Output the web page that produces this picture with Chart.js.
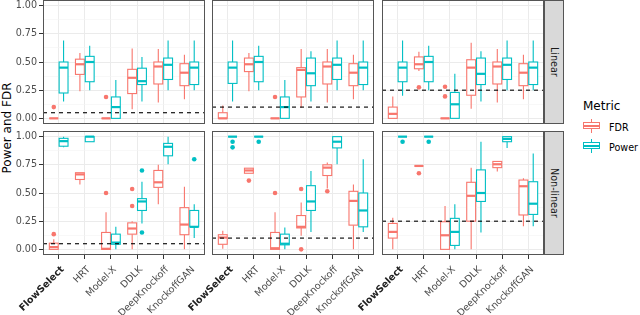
<!DOCTYPE html>
<html>
<head>
<meta charset="utf-8">
<script src="https://cdn.jsdelivr.net/npm/chart.js@4.4.1/dist/chart.umd.min.js"></script>
<style>
  body { margin: 0; background: #fff; }
  #wrap { position: relative; width: 640px; height: 315px; overflow: hidden; font-family: 'DejaVu Sans', sans-serif; }
  #wrap canvas { position: absolute; left: 0; top: 0; }
  .strip { position: absolute; left: 544px; width: 20px; height: 124px; background: #D9D9D9; border: 1px solid #555; box-sizing: border-box;
           display: flex; align-items: center; justify-content: center; }
  .strip span { writing-mode: vertical-rl; font-size: 9.6px; color: #1A1A1A; white-space: nowrap; }
  .ytitle { position: absolute; left: 6.9px; top: 127.5px; transform: translate(-50%, -50%) rotate(-90deg); font-size: 12px; line-height: 12px; white-space: nowrap; color: #000; }
  .legtxt { position: absolute; white-space: nowrap; color: #000; }
  .kpart { position: absolute; box-sizing: border-box; }
</style>
</head>
<body>
<div id="wrap">
  <div class="ytitle">Power and FDR</div>
  <div class="strip" style="top:0px"><span id="s0"></span></div>
  <div class="strip" style="top:131px"><span id="s1"></span></div>
  <div class="legtxt" style="left:583px;top:99px;font-size:12px">Metric</div>
  <div class="legtxt" style="left:609px;top:121.9px;font-size:9.6px">FDR</div>
  <div class="legtxt" style="left:609px;top:142.3px;font-size:9.6px">Power</div>
</div>
<script>
// Categories and facets
const methods = ['FlowSelect', 'HRT', 'Model-X', 'DDLK', 'DeepKnockoff', 'KnockoffGAN'];
const settings = ['Linear', 'Non-linear'];
const targets = [0.05, 0.1, 0.25];
const yBreaks = [0, 0.125, 0.25, 0.375, 0.5, 0.625, 0.75, 0.875, 1];

// Box summaries per method: [lower whisker, q1, median, q3, upper whisker]
const linFdr05 = [[0, 0, 0, 0, 0], [0.24, 0.39, 0.48, 0.525, 0.58], [0, 0, 0, 0, 0], [0.08, 0.22, 0.36, 0.435, 0.62], [0.14, 0.305, 0.46, 0.5, 0.615], [0.17, 0.29, 0.405, 0.485, 0.565]];
const linPow05 = [[0.15, 0.225, 0.45, 0.5, 0.69], [0.25, 0.325, 0.5, 0.55, 0.645], [0, 0, 0.1, 0.19, 0.34], [0.15, 0.3, 0.33, 0.445, 0.545], [0.25, 0.345, 0.475, 0.535, 0.69], [0.25, 0.3, 0.45, 0.5, 0.69]];
const linFdr10 = [[0, 0, 0, 0.05, 0.115], [0.24, 0.415, 0.48, 0.535, 0.58], [0, 0, 0, 0, 0], [0.095, 0.19, 0.43, 0.45, 0.615], [0.14, 0.305, 0.46, 0.5, 0.615], [0.17, 0.29, 0.405, 0.485, 0.565]];
const linPow10 = [[0.15, 0.31, 0.45, 0.5, 0.69], [0.25, 0.325, 0.5, 0.55, 0.645], [0, 0, 0.1, 0.19, 0.34], [0.15, 0.29, 0.4, 0.535, 0.595], [0.25, 0.345, 0.475, 0.535, 0.69], [0.25, 0.3, 0.45, 0.5, 0.69]];
const linFdr25 = [[0, 0, 0.04, 0.1, 0.195], [0.42, 0.44, 0.48, 0.545, 0.59], [0, 0, 0, 0, 0], [0.085, 0.205, 0.45, 0.52, 0.67], [0.14, 0.305, 0.46, 0.5, 0.615], [0.17, 0.29, 0.405, 0.485, 0.565]];
const linPow25 = [[0.2, 0.325, 0.45, 0.5, 0.69], [0.25, 0.325, 0.5, 0.55, 0.645], [0, 0, 0.125, 0.23, 0.395], [0.15, 0.3, 0.395, 0.535, 0.595], [0.25, 0.345, 0.475, 0.535, 0.69], [0.25, 0.3, 0.45, 0.5, 0.69]];
const nlFdr05 = [[0, 0, 0.02, 0.055, 0.09], [0.575, 0.62, 0.665, 0.68, 0.68], [0, 0, 0.005, 0.15, 0.33], [0, 0.135, 0.185, 0.235, 0.25], [0.4, 0.55, 0.595, 0.7, 0.75], [0, 0.13, 0.22, 0.37, 0.555]];
const nlPow05 = [[0.905, 0.915, 0.96, 0.985, 1], [0.955, 0.955, 1, 1, 1], [0, 0.045, 0.06, 0.135, 0.2], [0.23, 0.345, 0.425, 0.45, 0.6], [0.755, 0.83, 0.91, 0.94, 1], [0.1, 0.2, 0.2, 0.345, 0.4]];
const nlFdr10 = [[0.005, 0.045, 0.105, 0.13, 0.165], [0.675, 0.675, 0.7, 0.72, 0.72], [0, 0, 0.01, 0.15, 0.33], [0.12, 0.19, 0.2, 0.3, 0.415], [0.54, 0.655, 0.725, 0.75, 0.77], [0, 0.215, 0.43, 0.515, 0.575]];
const nlPow10 = [[1, 1, 1, 1, 1], [1, 1, 1, 1, 1], [0, 0.04, 0.05, 0.135, 0.195], [0.155, 0.345, 0.425, 0.565, 0.695], [0.755, 0.9, 0.955, 1, 1], [0.155, 0.2, 0.345, 0.5, 0.8]];
const nlFdr25 = [[0, 0.1, 0.155, 0.23, 0.28], [0.74, 0.74, 0.74, 0.74, 0.74], [0, 0, 0.125, 0.245, 0.385], [0, 0.25, 0.475, 0.595, 0.725], [0.69, 0.725, 0.755, 0.78, 0.78], [0.205, 0.305, 0.56, 0.615, 0.63]];
const nlPow25 = [[1, 1, 1, 1, 1], [1, 1, 1, 1, 1], [0, 0.035, 0.155, 0.275, 0.4], [0.15, 0.425, 0.5, 0.705, 0.955], [0.9, 0.955, 0.98, 1, 1], [0.205, 0.31, 0.405, 0.6, 0.85]];

// Outliers per method
const linFdr05Out = [[0.1], [], [0.19], [], [], []];
const linPow05Out = [[], [], [], [], [], []];
const linFdr10Out = [[], [], [0.19], [], [], []];
const linPow10Out = [[], [], [], [], [], []];
const linFdr25Out = [[], [0.275], [0.28, 0.195], [], [], []];
const linPow25Out = [[], [], [], [], [], []];
const nlFdr05Out = [[0.135], [], [0.5], [0.385, 0.535], [], []];
const nlPow05Out = [[], [], [], [0.7, 0.15], [], [0.8]];
const nlFdr10Out = [[], [0.61], [0.5], [0.535, 0], [0.515], []];
const nlPow10Out = [[0.955, 0.905], [0.955], [], [], [], []];
const nlFdr25Out = [[], [0.675], [], [], [], []];
const nlPow25Out = [[0.955], [0.955], [], [], [], []];

const fdrStats = [[linFdr05, linFdr10, linFdr25], [nlFdr05, nlFdr10, nlFdr25]];
const powStats = [[linPow05, linPow10, linPow25], [nlPow05, nlPow10, nlPow25]];
const fdrOuts = [[linFdr05Out, linFdr10Out, linFdr25Out], [nlFdr05Out, nlFdr10Out, nlFdr25Out]];
const powOuts = [[linPow05Out, linPow10Out, linPow25Out], [nlPow05Out, nlPow10Out, nlPow25Out]];

// Layout
const colLeft = [43, 212, 382];
const rowTop = [0, 131];
const panelW = 162, panelH = 124;
const X_MIN = 0.4, X_MAX = 6.6, BOX_W = 0.34, DODGE = 0.1875;
const FDR_COL = '#F8766D', POW_COL = '#00BFC4';
const FONT = "'DejaVu Sans', sans-serif";

const isMajor = v => Math.abs(v * 4 - Math.round(v * 4)) < 1e-9;

function drawBox(ctx, xs, ys, pos, st, color) {
    const [lo, q1, md, q3, hi] = st;
    const cx = xs.getPixelForValue(pos);
    const hw = xs.getPixelForValue(pos + BOX_W / 2) - cx;
    const yLo = ys.getPixelForValue(lo), yQ1 = ys.getPixelForValue(q1);
    const yMd = ys.getPixelForValue(md), yQ3 = ys.getPixelForValue(q3), yHi = ys.getPixelForValue(hi);
    ctx.strokeStyle = color;
    ctx.lineWidth = 1.1;
    ctx.beginPath();
    ctx.moveTo(cx, yHi); ctx.lineTo(cx, yQ3);
    ctx.moveTo(cx, yQ1); ctx.lineTo(cx, yLo);
    ctx.stroke();
    ctx.fillStyle = '#fff';
    ctx.fillRect(cx - hw, yQ3, 2 * hw, yQ1 - yQ3);
    ctx.strokeRect(cx - hw, yQ3, 2 * hw, yQ1 - yQ3);
    ctx.lineWidth = 2.2;
    ctx.beginPath();
    ctx.moveTo(cx - hw, yMd); ctx.lineTo(cx + hw, yMd);
    ctx.stroke();
}

// Boxplots drawn through the chart scales
const boxPlugin = {
    id: 'boxes',
    beforeDatasetsDraw(chart, args, opts) {
        const { ctx, chartArea: a, scales } = chart;
        ctx.save();
        ctx.beginPath();
        ctx.rect(a.left, a.top, a.width, a.height);
        ctx.clip();
        opts.series.forEach(s => {
            s.stats.forEach((st, i) => drawBox(ctx, scales.x, scales.y, i + 1 + s.offset, st, s.color));
        });
        ctx.restore();
    },
    afterDraw(chart) {
        const { ctx, chartArea: a } = chart;
        ctx.save();
        ctx.strokeStyle = '#555';
        ctx.lineWidth = 1;
        ctx.strokeRect(Math.round(a.left) + 0.5, Math.round(a.top) + 0.5, Math.round(a.width) - 1, Math.round(a.height) - 1);
        ctx.restore();
    }
};

function outPoints(outs, off) {
    return outs.flatMap((vals, i) => vals.map(v => ({ x: i + 1 + off, y: v })));
}

function makePanel(canvas, r, c) {
    const target = targets[c];
    new Chart(canvas.getContext('2d'), {
        type: 'scatter',
        data: {
            datasets: [
                {
                    data: outPoints(fdrOuts[r][c], -DODGE),
                    pointRadius: 2.3, pointBackgroundColor: FDR_COL, pointBorderWidth: 0
                },
                {
                    data: outPoints(powOuts[r][c], DODGE),
                    pointRadius: 2.3, pointBackgroundColor: POW_COL, pointBorderWidth: 0
                },
                {
                    data: [{ x: X_MIN, y: target }, { x: X_MAX, y: target }],
                    showLine: true, pointRadius: 0, borderColor: '#000', borderWidth: 1.1, borderDash: [4, 4]
                }
            ]
        },
        options: {
            responsive: false,
            animation: false,
            events: [],
            layout: {
                autoPadding: false,
                padding: {
                    left: c === 0 ? 0 : colLeft[c],
                    right: 640 - colLeft[c] - panelW,
                    top: rowTop[r],
                    bottom: r === 0 ? 315 - panelH : 0
                }
            },
            plugins: {
                legend: { display: false },
                tooltip: { enabled: false },
                boxes: {
                    series: [
                        { stats: fdrStats[r][c], offset: -DODGE, color: FDR_COL },
                        { stats: powStats[r][c], offset: DODGE, color: POW_COL }
                    ]
                }
            },
            scales: {
                x: {
                    type: 'linear', min: X_MIN, max: X_MAX,
                    afterBuildTicks: s => { s.ticks = methods.map((m, i) => ({ value: i + 1 })); },
                    afterFit: s => { s.height = r === 1 ? 60 : 0; s.paddingLeft = 0; s.paddingRight = 0; },
                    border: { display: false },
                    grid: { color: '#EBEBEB', lineWidth: 1, drawTicks: r === 1, tickLength: 4, tickColor: '#333', tickWidth: 1 },
                    ticks: {
                        display: r === 1, autoSkip: false, minRotation: 45, maxRotation: 45, padding: 5, labelOffset: 4,
                        color: ctx => ctx.index === 0 ? '#222' : '#4D4D4D',
                        font: ctx => ({ family: FONT, size: 9.6, weight: ctx.index === 0 ? 'bold' : 'normal' }),
                        callback: (v, i) => methods[i]
                    }
                },
                y: {
                    type: 'linear', min: -0.05, max: 1.05,
                    afterBuildTicks: s => { s.ticks = yBreaks.map(v => ({ value: v })); },
                    afterFit: s => { s.width = c === 0 ? 43 : 0; s.paddingTop = 0; s.paddingBottom = 0; },
                    border: { display: false },
                    grid: {
                        color: ctx => isMajor(ctx.tick.value) ? '#EBEBEB' : '#F4F4F4',
                        lineWidth: ctx => isMajor(ctx.tick.value) ? 1 : 0.6,
                        drawTicks: c === 0, tickLength: 4, tickWidth: 1,
                        tickColor: ctx => isMajor(ctx.tick.value) ? '#333' : 'rgba(0,0,0,0)'
                    },
                    ticks: {
                        display: c === 0, padding: 2, color: '#4D4D4D',
                        font: { family: FONT, size: 9.6 },
                        callback: v => isMajor(v) ? v.toFixed(2) : ''
                    }
                }
            }
        },
        plugins: [boxPlugin]
    });
}

const wrap = document.getElementById('wrap');
settings.forEach((setting, r) => {
    document.getElementById('s' + r).textContent = setting;
    targets.forEach((t, c) => {
        const canvas = document.createElement('canvas');
        canvas.width = 640;
        canvas.height = 315;
        wrap.appendChild(canvas);
        makePanel(canvas, r, c);
    });
});

// Legend keys
function addKey(center, color) {
    const parts = [
        { left: 591, top: center - 7.2, width: 1.1, height: 14.4, bg: color },
        { left: 583, top: center - 3.8, width: 17, height: 7.6, bg: '#fff', border: color },
        { left: 583, top: center - 1.1, width: 17, height: 2.2, bg: color }
    ];
    parts.forEach(p => {
        const d = document.createElement('div');
        d.className = 'kpart';
        d.style.cssText = `left:${p.left}px;top:${p.top}px;width:${p.width}px;height:${p.height}px;background:${p.bg};` +
            (p.border ? `border:1.1px solid ${p.border};` : '');
        wrap.appendChild(d);
    });
}
addKey(125.7, FDR_COL);
addKey(145.7, POW_COL);
</script>
</body>
</html>
